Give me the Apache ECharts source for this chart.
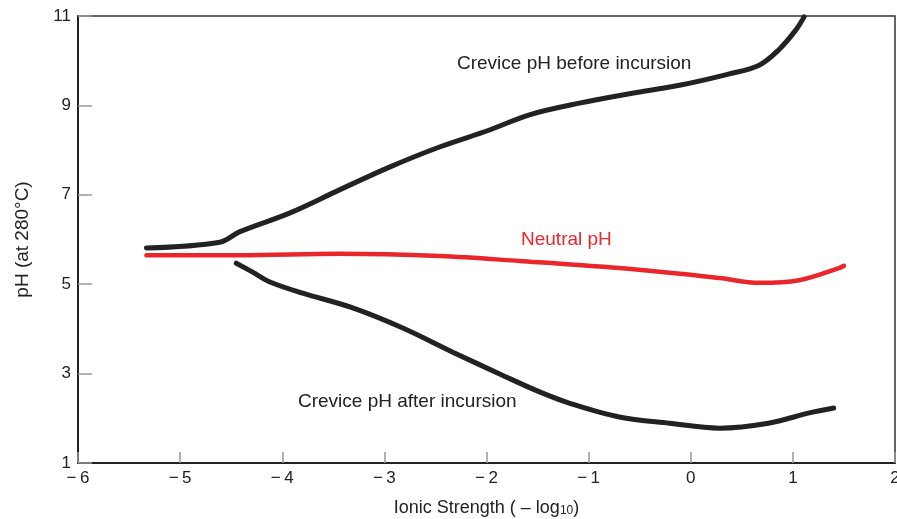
<!DOCTYPE html>
<html>
<head>
<meta charset="utf-8">
<script src="https://cdn.jsdelivr.net/npm/echarts@6/dist/echarts.min.js"></script>
<style>
html,body{margin:0;padding:0;background:#fff;}
#c{width:897px;height:519px;}
</style>
</head>
<body>
<div id="c"></div>
<script>
// Ionic strength (-log10) vs pH at 280 °C
const beforeX = [-5.33, -4.61, -4.42, -3.93, -3.44, -2.95, -2.46, -1.97, -1.58, -1.09, -0.60, -0.11, 0.37, 0.67, 0.86, 1.03, 1.11];
const beforeY = [5.81, 5.94, 6.17, 6.59, 7.11, 7.62, 8.07, 8.45, 8.79, 9.05, 9.26, 9.45, 9.70, 9.90, 10.24, 10.69, 10.98];

const neutralX = [-5.33, -4.42, -3.44, -2.46, -1.68, -0.70, 0.28, 0.67, 1.06, 1.45, 1.50];
const neutralY = [5.65, 5.65, 5.68, 5.63, 5.52, 5.36, 5.14, 5.03, 5.09, 5.36, 5.41];

const afterX = [-4.45, -4.29, -4.12, -3.80, -3.31, -2.82, -2.33, -1.85, -1.48, -1.19, -0.70, -0.21, 0.28, 0.76, 1.16, 1.40];
const afterY = [5.47, 5.27, 5.05, 4.80, 4.47, 4.02, 3.48, 2.97, 2.59, 2.34, 2.03, 1.89, 1.78, 1.89, 2.12, 2.23];

const xTicks = [-6, -5, -4, -3, -2, -1, 0, 1, 2];
const yTicks = [1, 3, 5, 7, 9, 11];

const curveLabels = ['Crevice pH before incursion', 'Neutral pH', 'Crevice pH after incursion'];

function pairs(xs, ys) { return xs.map((x, i) => [x, ys[i]]); }

const chart = echarts.init(document.getElementById('c'), null, {renderer: 'canvas'});
const font = '"Liberation Sans", Arial, Helvetica, sans-serif';

chart.setOption({
  animation: false,
  backgroundColor: '#ffffff',
  grid: {left: 78, right: 2, top: 16, bottom: 56, show: true, borderColor: '#333', borderWidth: 1.5,
         backgroundColor: 'transparent', containLabel: false, outerBoundsMode: 'none'},
  xAxis: {
    type: 'value', min: -6, max: 2, interval: 1,
    name: 'Ionic Strength ( \u2013 log{sub|10})',
    nameLocation: 'middle', nameGap: 36,
    nameTextStyle: {fontFamily: font, fontSize: 18, color: '#222', rich: {sub: {fontFamily: font, fontSize: 12, color: '#222', padding: [6, 0, 0, 0]}}},
    axisLine: {show: true, onZero: false, lineStyle: {color: '#222', width: 2}},
    axisTick: {show: true, inside: true, length: 11, lineStyle: {color: '#999', width: 1.5}},
    splitLine: {show: false},
    axisLabel: {
      fontFamily: font, fontSize: 17, color: '#222', margin: 7,
      formatter: v => (xTicks.indexOf(v) >= 0 ? (v < 0 ? '\u2212\u2009' + Math.abs(v) : String(v)) : '')
    }
  },
  yAxis: {
    type: 'value', min: 1, max: 11, interval: 2,
    name: 'pH (at 280\u00b0C)',
    nameLocation: 'middle', nameGap: 46,
    nameTextStyle: {fontFamily: font, fontSize: 19, color: '#222'},
    axisLine: {show: true, onZero: false, lineStyle: {color: '#222', width: 2}},
    axisTick: {show: true, inside: true, length: 14, lineStyle: {color: '#999', width: 1.5}},
    splitLine: {show: false},
    axisLabel: {
      fontFamily: font, fontSize: 17, color: '#222', margin: 7,
      formatter: v => (yTicks.indexOf(v) >= 0 ? String(v) : '')
    }
  },
  series: [
    {type: 'line', name: curveLabels[0], data: pairs(beforeX, beforeY), smooth: 0.35, showSymbol: false,
     lineStyle: {color: '#222', width: 5, cap: 'round'}, z: 3},
    {type: 'line', name: curveLabels[1], data: pairs(neutralX, neutralY), smooth: 0.35, showSymbol: false,
     lineStyle: {color: '#e8262b', width: 4.5, cap: 'round'}, z: 2},
    {type: 'line', name: curveLabels[2], data: pairs(afterX, afterY), smooth: 0.35, showSymbol: false,
     lineStyle: {color: '#222', width: 5, cap: 'round'}, z: 3}
  ],
  graphic: [
    {type: 'text', left: 457, top: 54, style: {text: curveLabels[0], fontFamily: font, fontSize: 19, fill: '#222'}},
    {type: 'text', left: 521, top: 230, style: {text: curveLabels[1], fontFamily: font, fontSize: 19, fill: '#e8262b'}},
    {type: 'text', left: 298, top: 392, style: {text: curveLabels[2], fontFamily: font, fontSize: 19, fill: '#222'}}
  ]
});
</script>
</body>
</html>
